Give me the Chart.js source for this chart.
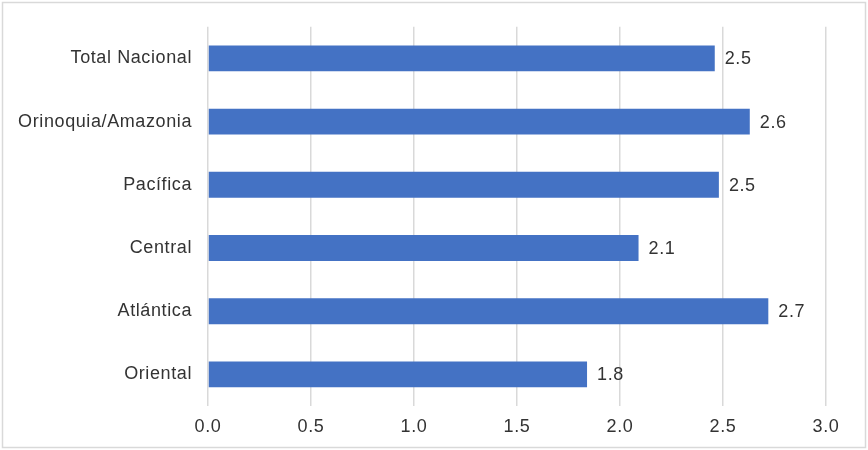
<!DOCTYPE html>
<html>
<head>
<meta charset="utf-8">
<script src="https://cdn.jsdelivr.net/npm/chart.js@4"></script>
<style>
html,body{margin:0;padding:0;background:#fff;}
#wrap{width:868px;height:450px;position:relative;}
</style>
</head>
<body>
<div id="wrap"><canvas id="c" width="868" height="450"></canvas></div>
<script>
const categories = ["Total Nacional","Orinoquia/Amazonia","Pacífica","Central","Atlántica","Oriental"];
const values = [2.46, 2.63, 2.48, 2.09, 2.72, 1.84];
const xTicks = [0, 0.5, 1.0, 1.5, 2.0, 2.5, 3.0];

const FONT = "'Liberation Sans', Arial, sans-serif";
const TEXT = "#333333";
const SPACING = '0.6px';

const frame = {
  id: 'frame',
  beforeDraw(chart) {
    const ctx = chart.ctx;
    ctx.letterSpacing = SPACING;
    ctx.save();
    ctx.fillStyle = '#fff';
    ctx.fillRect(0, 0, chart.width, chart.height);
    ctx.strokeStyle = '#d9d9d9';
    ctx.lineWidth = 1.5;
    ctx.strokeRect(2.5, 2.5, chart.width - 5, chart.height - 5);
    ctx.restore();
  },
  beforeLayout(chart) {
    chart.ctx.letterSpacing = SPACING;
  }
};

const barLabels = {
  id: 'barLabels',
  afterDatasetsDraw(chart) {
    const ctx = chart.ctx;
    const meta = chart.getDatasetMeta(0);
    ctx.save();
    ctx.letterSpacing = SPACING;
    ctx.font = "18px " + FONT;
    ctx.fillStyle = TEXT;
    ctx.textAlign = 'left';
    ctx.textBaseline = 'middle';
    meta.data.forEach((bar, i) => {
      ctx.fillText(values[i].toFixed(1), bar.x + 10, bar.y + 1);
    });
    ctx.restore();
  }
};

new Chart(document.getElementById('c'), {
  type: 'bar',
  data: {
    labels: categories,
    datasets: [{
      data: values,
      backgroundColor: '#4472C4',
      borderWidth: 0,
      categoryPercentage: 1.0,
      barPercentage: 0.41
    }]
  },
  options: {
    indexAxis: 'y',
    responsive: false,
    animation: false,
    devicePixelRatio: 1,
    layout: { padding: { left: 0, right: 42, top: 24, bottom: 0 } },
    plugins: { legend: { display: false }, tooltip: { enabled: false } },
    scales: {
      x: {
        min: 0, max: 3.0,
        afterBuildTicks(s) { s.ticks = xTicks.map(v => ({ value: v })); },
        afterFit(s) { s.height = 44; },
        grid: { color: '#d9d9d9', lineWidth: 1.5, drawTicks: false },
        border: { display: false },
        ticks: {
          padding: 10,
          color: TEXT,
          font: { family: FONT, size: 18 },
          callback: (v) => Number(v).toFixed(1)
        }
      },
      y: {
        afterFit(s) { s.width = 208; },
        grid: { display: false, drawTicks: false },
        border: { display: false },
        ticks: {
          padding: 16,
          color: TEXT,
          font: { family: FONT, size: 18 }
        }
      }
    }
  },
  plugins: [frame, barLabels]
});
</script>
</body>
</html>
